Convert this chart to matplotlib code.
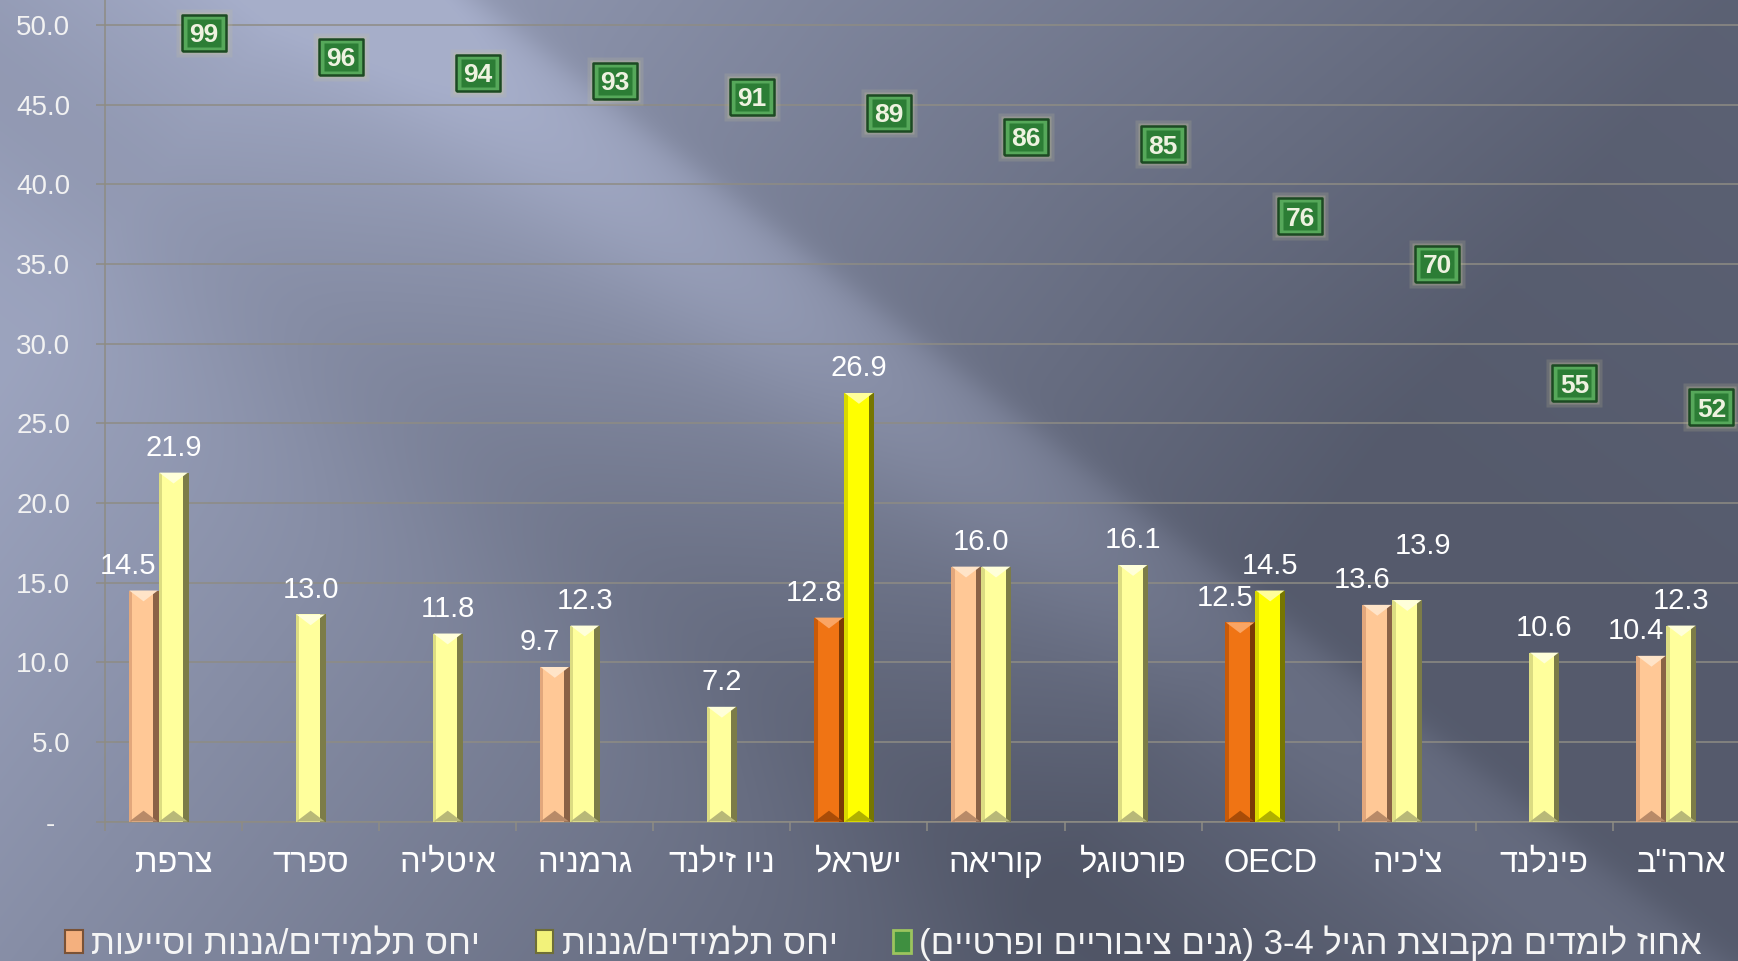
import re
import numpy as np
import matplotlib
matplotlib.use('Agg')
import matplotlib.pyplot as plt
from matplotlib.patches import Patch

plt.rcParams['font.family'] = ['Liberation Sans', 'DejaVu Sans']

# ---------------- data ----------------
categories = ['צרפת', 'ספרד', 'איטליה', 'גרמניה', 'ניו זילנד', 'ישראל',
              'קוריאה', 'פורטוגל', 'OECD', "צ'כיה", 'פינלנד', 'ארה"ב']
ratio_staff = [14.5, None, None, 9.7, None, 12.8, 16.0, None, 12.5, 13.6, None, 10.4]
ratio_teachers = [21.9, 13.0, 11.8, 12.3, 7.2, 26.9, 16.0, 16.1, 14.5, 13.9, 10.6, 12.3]
enrolment = [99, 96, 94, 93, 91, 89, 86, 85, 76, 70, 55, 52]
highlight = ['ישראל', 'OECD']
series_names = ['יחס תלמידים/גננות וסייעות',
                'יחס תלמידים/גננות',
                'אחוז לומדים מקבוצת הגיל 3-4 (גנים ציבוריים ופרטיים)']
yticks = [0, 5, 10, 15, 20, 25, 30, 35, 40, 45, 50]


def vis(s):
    """Visual (left-to-right) order for right-to-left Hebrew text."""
    r = s[::-1]
    r = re.sub(r'[A-Za-z0-9][A-Za-z0-9\-\.]*', lambda m: m.group(0)[::-1], r)
    return r.translate(str.maketrans('()', ')('))


W, H = 1738, 961
fig = plt.figure(figsize=(W / 100, H / 100), dpi=100)

# ---------------- background (diagonal streaked slate gradient) ----------------
X, Y = np.meshgrid(np.arange(W, dtype=float), np.arange(H, dtype=float))
s = (X - 812) * 0.793 + (Y - 256) * 0.610
d = (X - 812) * 0.610 - (Y - 256) * 0.793
R = np.clip(123 - 0.058 * s, 90, 156)
edge = 1 / (1 + np.exp(np.clip(d / 8, -60, 60)))
R += -5 * (1 - edge) + 0.012 * np.maximum(d - 200, 0)
R += 22 * edge * np.exp(-((d + 60) / 100) ** 2) * np.clip(1 - s / 1800, 0.5, 1)
R += -10 * np.exp(-((d + 360) / 110) ** 2)
t = np.clip((R - 71) / 95, 0, 1)
light = np.array([166, 174, 202]) / 255
dark = np.array([71, 76, 92]) / 255
img = dark[None, None, :] + t[..., None] * (light - dark)[None, None, :]
bg = fig.add_axes([0, 0, 1, 1])
bg.imshow(img, aspect='auto', interpolation='bilinear')
bg.axis('off')
bg.set_zorder(0)

# ---------------- main axes ----------------
x0, base = 105, 821.5
ax = fig.add_axes([x0 / W, 1 - base / H, 1645 / W, base / H])
ax.set_zorder(1)
ax.patch.set_alpha(0)
ymax = base / 15.93
ax.set_ylim(0, ymax)
ax.set_xlim(-0.5, len(categories) - 0.5)

grid_c = '#8e8c84'
x = np.arange(len(categories))
w = 0.2188
staff = np.array([np.nan if v is None else v for v in ratio_staff])
teach = np.array(ratio_teachers, dtype=float)
hi = np.array([c in highlight for c in categories])

orange_main = np.where(hi, '#F07414', '#FFC896')
orange_left = np.where(hi, '#C85A08', '#E2A77C')
orange_right = np.where(hi, '#7A3A06', '#8A6246')
orange_top = np.where(hi, '#FAA564', '#FFE4C8')
orange_bot = np.where(hi, '#A84C08', '#B88A68')
yellow_main = np.where(hi, '#FFFF00', '#FFFF9C')
yellow_left = np.where(hi, '#D8D800', '#DCDC82')
yellow_right = np.where(hi, '#767600', '#7C7C48')
yellow_top = np.where(hi, '#FFFF9A', '#FFFFDA')
yellow_bot = np.where(hi, '#B0B000', '#B8B878')

tri_down = [(-0.5, 0), (0.5, 0), (0, -0.38), (-0.5, 0)]
tri_up = [(-0.5, 0), (0.5, 0), (0, 0.38), (-0.5, 0)]
bar_pts = w * 1645 / len(categories) * 0.72  # bar width in points


def bevel_bar(xs, hs, main, left, right, top, bot):
    hz = np.nan_to_num(hs)
    ax.bar(xs, hz, w, color=main, linewidth=0, zorder=3)
    ax.bar(xs - w / 2 + w * 0.06, hz, w * 0.12, color=left, linewidth=0, zorder=4)
    ax.bar(xs + w / 2 - w * 0.09, hz, w * 0.18, color=right, linewidth=0, zorder=4)
    ok = ~np.isnan(hs)
    ax.scatter(xs[ok], hs[ok], marker=tri_down, s=(bar_pts * 0.95) ** 2,
               c=top[ok], linewidths=0, zorder=5)
    ax.scatter(xs[ok], np.zeros(ok.sum()), marker=tri_up, s=(bar_pts * 0.95) ** 2,
               c=bot[ok], linewidths=0, zorder=5, clip_on=False)


bevel_bar(x - w, staff, orange_main, orange_left, orange_right, orange_top, orange_bot)
bevel_bar(x, teach, yellow_main, yellow_left, yellow_right, yellow_top, yellow_bot)

# data labels
lab_kw = dict(textcoords='offset points', ha='center', va='baseline',
              fontsize=21, color='#ffffff', zorder=6)
for i in range(len(categories)):
    sv, tv = staff[i], teach[i]
    if not np.isnan(sv) and abs(sv - tv) < 0.05:
        ax.annotate(f'{tv:.1f}', (x[i] - w / 2, tv), xytext=(0, 12), **lab_kw)
        continue
    if not np.isnan(sv):
        ax.annotate(f'{sv:.1f}', (x[i] - w, sv), xytext=(-11, 12), **lab_kw)
    dy, dx = 12, 0
    if not np.isnan(sv) and abs(sv - tv) < 1.0:
        dy, dx = 33, 11
    ax.annotate(f'{tv:.1f}', (x[i], tv), xytext=(dx, dy), **lab_kw)

# axes styling
ax.set_axisbelow(True)
ax.yaxis.grid(True, color=grid_c, linewidth=1.1)
for sp in ['top', 'right']:
    ax.spines[sp].set_visible(False)
for sp in ['left', 'bottom']:
    ax.spines[sp].set_color(grid_c)
    ax.spines[sp].set_linewidth(1.1)
ax.set_yticks(yticks)
ax.set_yticklabels(['-\u00a0\u00a0' if v == 0 else f'{v:.1f}' for v in yticks])
ax.tick_params(axis='y', length=6.5, width=1.1, color=grid_c, labelsize=20,
               labelcolor='#f2f2f2', pad=18.5)
ax.set_xticks(x)
ax.set_xticklabels([vis(c) for c in categories])
ax.tick_params(axis='x', which='major', length=0, labelsize=23.5,
               labelcolor='#ffffff', pad=19)
ax.set_xticks(np.arange(-0.5, len(categories), 1), minor=True)
ax.tick_params(axis='x', which='minor', length=6.5, width=1.1, color=grid_c)

# ---------------- secondary axis: enrolment markers ----------------
ax2 = ax.twinx()
ax2.set_ylim(0, ymax * 2)
ax2.axis('off')
rect = [(-0.5, -0.42), (0.5, -0.42), (0.5, 0.42), (-0.5, 0.42), (-0.5, -0.42)]
ax2.plot(x + w, enrolment, ls='none', marker=rect, ms=41, mfc='#c8c49a',
         mec='none', alpha=0.18, zorder=5)
ax2.plot(x + w, enrolment, ls='none', marker=rect, ms=36, mfc='#c8c49a',
         mec='none', alpha=0.28, zorder=5)
ax2.plot(x + w, enrolment, ls='none', marker=rect, ms=31, mfc='#56a85a',
         mec='#1c4a22', mew=1.8, zorder=6)
ax2.plot(x + w, enrolment, ls='none', marker=rect, ms=24.5, mfc='#2c7d35',
         mec='none', zorder=7)
for xi, v in zip(x + w, enrolment):
    ax2.text(xi, v, f'{v}', ha='center', va='center_baseline', fontsize=19,
             fontweight='bold', color='#eef2e0', zorder=8)

# ---------------- legend ----------------
handles = [Patch(facecolor='#F4B07E', edgecolor='#7a5236', linewidth=1.5),
           Patch(facecolor='#F2F27A', edgecolor='#6e6e36', linewidth=1.5),
           Patch(facecolor='#3f8f40', edgecolor='#9cc45e', linewidth=2)]
leg = fig.legend(handles, [vis(sn) for sn in series_names], loc='center left',
                 bbox_to_anchor=(34 / W, 18 / H), ncol=3, frameon=False,
                 prop=dict(family=['Liberation Sans', 'DejaVu Sans'], size=25),
                 handlelength=0.5, handleheight=0.65, handletextpad=0.25,
                 columnspacing=1.6, labelcolor='#f5f5f5')

fig.savefig('out.png', dpi=100)
